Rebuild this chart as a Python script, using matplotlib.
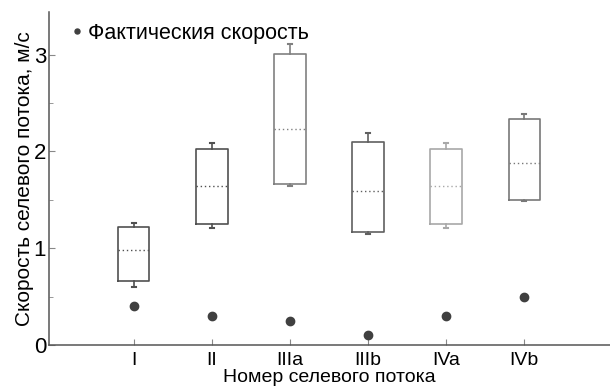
import matplotlib.pyplot as plt
from matplotlib.ticker import MultipleLocator

plt.rcParams['font.family'] = ['Liberation Sans', 'DejaVu Sans']

# потоки
flows = ['I', 'II', 'IIIa', 'IIIb', 'IVa', 'IVb']
q1 = [0.66, 1.25, 1.66, 1.17, 1.25, 1.50]
q3 = [1.22, 2.02, 3.01, 2.10, 2.02, 2.33]
med = [0.98, 1.64, 2.23, 1.59, 1.64, 1.88]
whis_lo = [0.60, 1.21, 1.64, 1.15, 1.21, 1.49]
whis_hi = [1.26, 2.09, 3.11, 2.19, 2.09, 2.39]
actual = [0.40, 0.30, 0.25, 0.10, 0.30, 0.50]

box_colors = ['#505050', '#505050', '#808080', '#606060', '#a8a8a8', '#787878']

fig = plt.figure(figsize=(6.1, 3.86), dpi=100)
ax = fig.add_axes([0.080, 0.106, 0.920, 0.863])

stats = []
for i in range(len(flows)):
    stats.append(dict(med=med[i], q1=q1[i], q3=q3[i],
                      whislo=whis_lo[i], whishi=whis_hi[i], fliers=[]))

pos = list(range(1, len(flows) + 1))
res = ax.bxp(stats, positions=pos, widths=0.4, capwidths=0.05,
             showfliers=False, manage_ticks=False)
for i, c in enumerate(box_colors):
    res['boxes'][i].set(color=c, linewidth=1.2)
    res['medians'][i].set(color=c, linewidth=1.0, linestyle=(0, (1, 2)))
    for k in (2 * i, 2 * i + 1):
        res['whiskers'][k].set(color=c, linewidth=1.2)
        res['caps'][k].set(color=c, linewidth=1.5)

ax.plot(pos, actual, 'o', color='#404040', markersize=6, linestyle='none',
        label='Фактическия скорость')

ax.set_xlim(-0.09, 7.1)
ax.set_ylim(0, 3.44)
ax.set_xticks(pos)
ax.set_xticklabels(flows)
ax.yaxis.set_major_locator(MultipleLocator(1))
ax.yaxis.set_minor_locator(MultipleLocator(0.5))

for s in ('top', 'right'):
    ax.spines[s].set_visible(False)
for s in ('left', 'bottom'):
    ax.spines[s].set_color('#555555')
    ax.spines[s].set_linewidth(1.1)

ax.tick_params(which='both', direction='in', color='#888888')
ax.tick_params(which='major', length=4)
ax.tick_params(which='minor', length=3)
ax.tick_params(axis='x', pad=5, labelsize=14)
ax.tick_params(axis='y', pad=2, labelsize=16)

ax.set_ylabel('Скорость селевого потока, м/с', fontsize=15, labelpad=0)
ax.set_xlabel('Номер селевого потока', fontsize=14, labelpad=0)

ax.legend(loc='upper left', bbox_to_anchor=(0.015, 1.013), frameon=False,
          fontsize=15.5, markerscale=0.6, handlelength=0.4, handletextpad=0.35,
          borderaxespad=0.3)

fig.savefig('out.png', dpi=100)
